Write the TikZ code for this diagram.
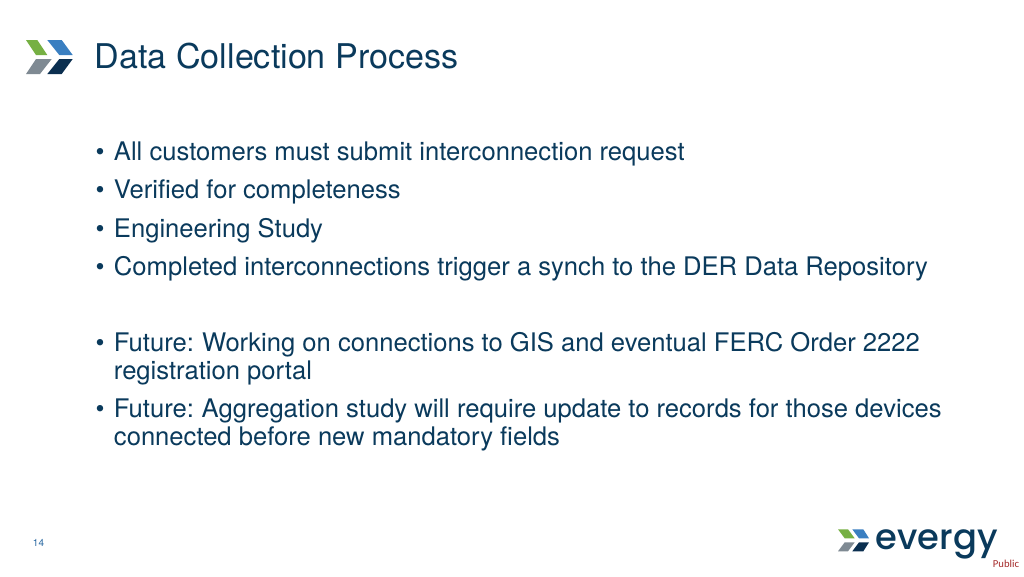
\documentclass[tikz,border=0pt]{standalone}
\usepackage{fontspec}
\setmainfont{TeX Gyre Heros}
\newfontfamily\logofont{Poppins Medium}
\newfontfamily\pubfont{Carlito}
\definecolor{navy}{HTML}{0A3A5C}
\definecolor{lgreen}{HTML}{76B043}
\definecolor{lblue}{HTML}{3A7FC1}
\definecolor{lgrey}{HTML}{7F8A93}
\definecolor{ldark}{HTML}{0B2F50}
\definecolor{pubred}{HTML}{A52A2A}
\tikzset{
 bodytxt/.style={anchor=base west,inner sep=0pt,text=navy,font=\fontsize{19.2pt}{22pt}\selectfont},
 bullettxt/.style={anchor=base,inner sep=0pt,text=navy,font=\fontsize{19.2pt}{22pt}\selectfont},
}
\begin{document}
\begin{tikzpicture}[x=0.75pt,y=-0.75pt]
\useasboundingbox (0,0) rectangle (1024,576);
\fill[white] (0,0) rectangle (1024,576);
% top logo
\fill[lgreen] (26,40)--(37.3,40)--(47.3,55)--(36,55)--cycle;
\fill[lblue] (47.3,40)--(61.7,40)--(72.7,55)--(59.3,55)--cycle;
\fill[lgrey] (36,59)--(51.7,59)--(40,74)--(26,74)--cycle;
\fill[ldark] (59.3,59)--(72.7,59)--(61.7,74)--(47.3,74)--cycle;
% title
\node[anchor=base west,inner sep=0pt,text=navy,font=\fontsize{25.55pt}{30pt}\selectfont] (title) at (94.7,68) {Data Collection Process};
% bullets
\foreach \n/\y in {a/160,b/198,c/237,d/275,e/351,f/417.5}{
  \node[bullettxt] (bul\n) at (100.2,\y) {•};
}
\node[bodytxt] (ta) at (113.7,160) {All customers must submit interconnection request};
\node[bodytxt] (tb) at (113.7,198) {Verified for completeness};
\node[bodytxt] (tc) at (113.7,237) {Engineering Study};
\node[bodytxt] (td) at (113.7,275) {Completed interconnections trigger a synch to the DER Data Repository};
\node[bodytxt] (te) at (113.7,351) {Future:\kern0.8pt\ Working on connections to GIS and eventual FERC Order 2222};
\node[bodytxt] (te2) at (113.7,379) {registration portal};
\node[bodytxt] (tf) at (113.7,417.5) {Future:\kern0.5pt\ Aggregation study will require update to records for those devices};
\node[bodytxt] (tf2) at (113.7,445.5) {connected before new mandatory fields};
% page number
\node[anchor=base,inner sep=0pt,text=lblue!70!navy,font=\fontsize{7.5pt}{9pt}\selectfont] (page) at (38.5,546) {14};
% bottom logo
\fill[lgreen] (838,529.3)--(848,529.3)--(854.7,538.3)--(844.7,538.3)--cycle;
\fill[lblue] (852.3,529.3)--(863.3,529.3)--(869,538.3)--(859,538.3)--cycle;
\fill[lgrey] (844.7,542.3)--(854.7,542.3)--(848,551.3)--(838,551.3)--cycle;
\fill[ldark] (859,542.3)--(869,542.3)--(863.3,551.3)--(852.3,551.3)--cycle;
\node[anchor=base west,inner sep=0pt,text=navy,font=\logofont\fontsize{26.5pt}{30pt}\selectfont] (brand) at (875.5,549.5) {evergy};
\node[anchor=base west,inner sep=0pt,text=pubred,font=\pubfont\fontsize{8pt}{9pt}\selectfont] (pub) at (992.7,567.5) {Public};
\end{tikzpicture}
\end{document}
